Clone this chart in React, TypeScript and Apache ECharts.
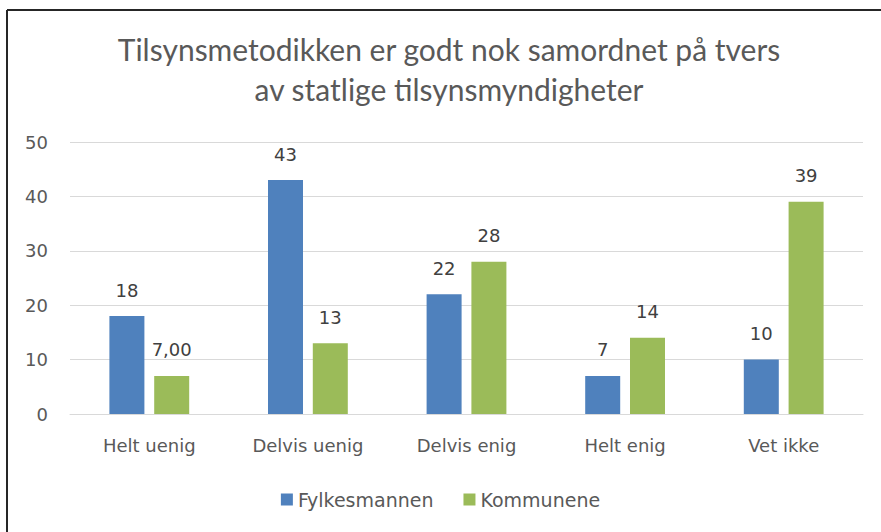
import React, { useEffect, useRef } from "react";
import * as echarts from "echarts";

const categories = ["Helt uenig", "Delvis uenig", "Delvis enig", "Helt enig", "Vet ikke"];
const fylkesmannen = [18, 43, 22, 7, 10];
const kommunene = [7, 13, 28, 14, 39];
const yTicks = [0, 10, 20, 30, 40, 50];
const seriesNames = ["Fylkesmannen", "Kommunene"];
const titleText = "Tilsynsmetodikken er godt nok samordnet på tvers\nav statlige tilsynsmyndigheter";

const FONT = "'DejaVu Sans', sans-serif";

export default function App() {
  const ref = useRef<HTMLDivElement>(null);
  useEffect(() => {
    if (!ref.current) return;
    const chart = echarts.init(ref.current, null, { renderer: "svg" });
    chart.setOption({
      animation: false,
      backgroundColor: "#ffffff",
      title: {
        text: titleText,
        left: 444,
        textAlign: "center",
        top: 24,
        textStyle: {
          fontFamily: "Lato, sans-serif",
          fontWeight: 400,
          fontSize: 30,
          lineHeight: 40,
          color: "#595959",
        },
      },
      legend: {
        data: seriesNames,
        top: 485,
        left: "center",
        itemWidth: 12,
        itemHeight: 12,
        itemGap: 30,
        icon: "rect",
        textStyle: { fontFamily: FONT, fontSize: 19, color: "#595959" },
      },
      graphic: [
        { type: "line", shape: { x1: 7, y1: 10, x2: 881, y2: 10 }, style: { stroke: "#262626", lineWidth: 2 } },
        { type: "line", shape: { x1: 7, y1: 10, x2: 7, y2: 532 }, style: { stroke: "#262626", lineWidth: 2 } },
      ],
      grid: { left: 70, right: 18, top: 142, bottom: 118 },
      xAxis: {
        type: "category",
        data: categories,
        axisLine: { show: true, lineStyle: { color: "#d9d9d9" } },
        axisTick: { show: false },
        axisLabel: { fontFamily: FONT, fontSize: 18, color: "#595959", margin: 22 },
      },
      yAxis: {
        type: "value",
        min: yTicks[0],
        max: yTicks[yTicks.length - 1],
        interval: 10,
        axisLine: { show: false },
        axisTick: { show: false },
        splitLine: { lineStyle: { color: "#d9d9d9" } },
        axisLabel: { fontFamily: FONT, fontSize: 18, color: "#595959", margin: 22 },
      },
      series: [
        {
          name: seriesNames[0],
          type: "bar",
          data: fylkesmannen,
          barWidth: 35,
          barGap: "28%",
          itemStyle: { color: "#4F81BD" },
          label: {
            show: true,
            position: "top",
            distance: 17,
            fontFamily: FONT,
            fontSize: 18,
            color: "#404040",
          },
        },
        {
          name: seriesNames[1],
          type: "bar",
          data: kommunene,
          barWidth: 35,
          barGap: "28%",
          itemStyle: { color: "#9BBB59" },
          label: {
            show: true,
            position: "top",
            distance: 17,
            fontFamily: FONT,
            fontSize: 18,
            color: "#404040",
            formatter: (p: any) => (p.dataIndex === 0 ? "7,00" : String(p.value)),
          },
        },
      ],
    });
    return () => chart.dispose();
  }, []);
  return (
    <div
      ref={ref}
      style={{ position: "fixed", left: 0, top: 0, width: 881, height: 532 }}
    />
  );
}
